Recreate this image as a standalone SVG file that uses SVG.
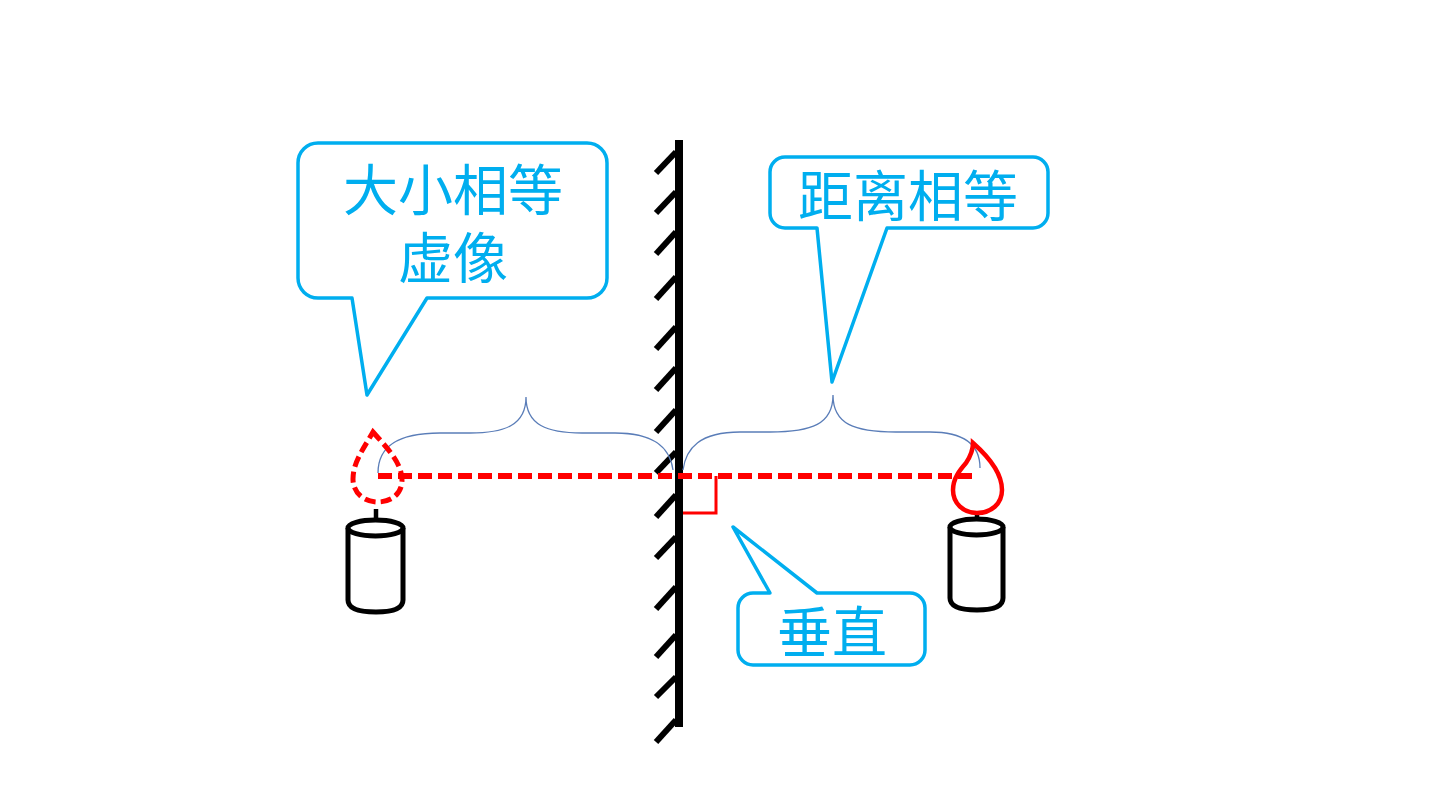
<svg xmlns="http://www.w3.org/2000/svg" width="1440" height="810" viewBox="0 0 1440 810">
<style>
.callout{fill:#ffffff;stroke:#00AEEF;stroke-width:3.5;stroke-linejoin:round}
.label{font-family:"Liberation Sans","Noto Sans CJK SC",sans-serif;font-size:55px;fill:#00AEEF;text-anchor:middle}
.hatch{stroke:#000;stroke-width:6;stroke-linecap:butt}
.brace{fill:none;stroke:#5A7DB8;stroke-width:1.3}
.candle{fill:#fff;stroke:#000;stroke-width:5}
.ray{fill:none;stroke:#FF0000;stroke-width:6;stroke-dasharray:14,6}
</style>
<rect width="1440" height="810" fill="#ffffff"/>

<g id="mirror">
<line x1="679" y1="140" x2="679" y2="727" stroke="#000" stroke-width="8"/>
<g class="hatch">
<line x1="676" y1="152" x2="656" y2="173"/>
<line x1="676" y1="192" x2="656" y2="213"/>
<line x1="676" y1="232" x2="656" y2="254"/>
<line x1="676" y1="277" x2="656" y2="299"/>
<line x1="676" y1="327" x2="656" y2="349"/>
<line x1="676" y1="368" x2="656" y2="390"/>
<line x1="676" y1="410" x2="656" y2="432"/>
<line x1="676" y1="452" x2="656" y2="473"/>
<line x1="676" y1="495" x2="656" y2="517"/>
<line x1="676" y1="537" x2="656" y2="558"/>
<line x1="676" y1="587" x2="656" y2="609"/>
<line x1="676" y1="635" x2="656" y2="657"/>
<line x1="676" y1="677" x2="656" y2="697"/>
<line x1="676" y1="720" x2="656" y2="742"/>
</g>
</g>

<g id="connectors">
<path class="brace" d="M378,473 C378,448 395,433 440,433 L470,433 C505,433 526,425 526,397 C526,425 547,433 582,433 L615,433 C655,433 670,448 673,470"/>
<path class="brace" d="M683,470 C686,448 700,432 740,432 L770,432 C812,432 833,424 833,395 C833,424 854,432 896,432 L930,432 C965,432 980,445 980,468"/>
<line class="ray" x1="378" y1="476" x2="972" y2="476"/>
<polyline points="683,513 716,513 716,476" fill="none" stroke="#FF0000" stroke-width="3"/>
</g>

<g id="image-candle">
<line x1="376" y1="509" x2="376" y2="527" stroke="#000" stroke-width="4.5"/>
<path class="candle" d="M348,528 V600 Q348,612 376,612 Q403,612 403,600 V528"/>
<ellipse class="candle" cx="375.5" cy="528" rx="27.5" ry="8"/>
<path d="M373,432 C385,446 402,462 402,480 C402,494 391,502 378,502 C364,502 353,493 353,479 C353,462 364,448 373,432 Z" fill="none" stroke="#FF0000" stroke-width="5" stroke-dasharray="11,5"/>
</g>

<g id="object-candle">
<line x1="977" y1="513" x2="977" y2="527" stroke="#000" stroke-width="4.5"/>
<path class="candle" d="M950,527 V598 Q950,610 977,610 Q1003,610 1003,598 V527"/>
<ellipse class="candle" cx="976.5" cy="527" rx="26.5" ry="8"/>
<path d="M973,443 C990,458 1002,475 1002,490 C1002,504 991,513 977,513 C963,513 953,503 953,490 C953,478 960,470 966,463 C970,457 973,450 973,443 Z" fill="none" stroke="#FF0000" stroke-width="4.5"/>
</g>

<g id="callout-virtual-image">
<path class="callout" d="M318,143 H587 A20,20 0 0 1 607,163 V278 A20,20 0 0 1 587,298 H427 L367,395 L352,298 H318 A20,20 0 0 1 298,278 V163 A20,20 0 0 1 318,143 Z"/>
<text class="label" x="453" y="210">大小相等</text>
<text class="label" x="453" y="278">虚像</text>
</g>

<g id="callout-distance">
<path class="callout" d="M785,157 H1033 A15,15 0 0 1 1048,172 V213 A15,15 0 0 1 1033,228 H887 L832,382 L817,228 H785 A15,15 0 0 1 770,213 V172 A15,15 0 0 1 785,157 Z"/>
<text class="label" x="908" y="216">距离相等</text>
</g>

<g id="callout-perpendicular">
<path class="callout" d="M753,593 H770 L733,527 L817,593 H910 A15,15 0 0 1 925,608 V650 A15,15 0 0 1 910,665 H753 A15,15 0 0 1 738,650 V608 A15,15 0 0 1 753,593 Z"/>
<text class="label" x="832" y="652">垂直</text>
</g>
</svg>
